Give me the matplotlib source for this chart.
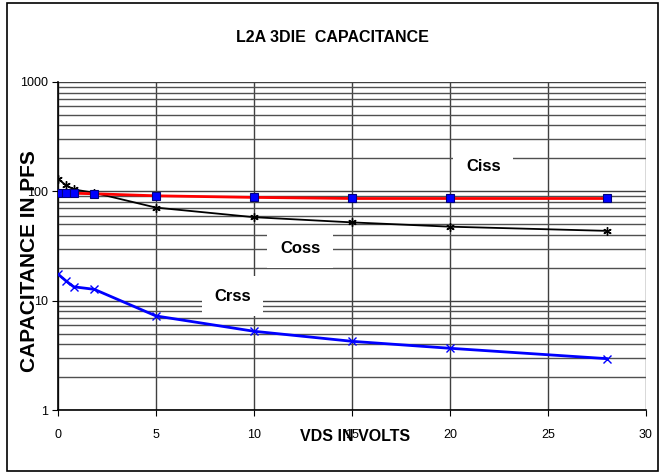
import matplotlib
matplotlib.use("Agg")
import matplotlib.pyplot as plt
from matplotlib.patches import Rectangle
from matplotlib.ticker import LogLocator, NullFormatter, FixedLocator, FixedFormatter

plt.rcParams['font.family'] = ['Liberation Sans', 'DejaVu Sans']

vds = [0, 0.4, 0.8, 1.85, 5, 10, 15, 20, 28]
ciss = [97, 96, 96, 95, 91, 88, 86, 86, 86]
coss = [130, 114, 104, 97, 71, 58, 52, 47.5, 43.5]
crss = [17.5, 15.2, 13.4, 12.7, 7.25, 5.25, 4.25, 3.67, 2.95]

fig = plt.figure(figsize=(6.65, 4.75), dpi=100)
ax = fig.add_axes([0.0872, 0.1368, 0.8842, 0.6906])

ax.plot(vds, ciss, color='red', lw=2, marker='s', ms=6,
        mfc='blue', mec='#000080', mew=0.8, zorder=5)
ax.plot(vds, coss, color='black', lw=1.3, marker=(6, 2, 0), ms=6,
        mec='black', mew=1, zorder=4)
ax.plot(vds, crss, color='blue', lw=2, marker='x', ms=6,
        mec='blue', mew=1, zorder=4)

ax.set_yscale('log')
ax.set_xlim(0, 30)
ax.set_ylim(1, 1000)
ax.xaxis.set_major_locator(FixedLocator([0, 5, 10, 15, 20, 25, 30]))
ax.yaxis.set_major_locator(FixedLocator([1, 10, 100, 1000]))
ax.yaxis.set_major_formatter(FixedFormatter(['1', '10', '100', '1000']))
ax.yaxis.set_minor_locator(LogLocator(base=10, subs=range(2, 10)))
ax.yaxis.set_minor_formatter(NullFormatter())

ax.grid(True, which='major', axis='both', color='#404040', lw=1)
ax.grid(True, which='minor', axis='y', color='#505050', lw=1)
ax.set_axisbelow(True)

for s in ['top', 'right']:
    ax.spines[s].set_visible(False)
ax.spines['left'].set_linewidth(1.2)
ax.spines['bottom'].set_linewidth(1.2)
ax.tick_params(axis='both', which='major', direction='out', length=4,
               labelsize=9, color='black')
ax.tick_params(axis='y', which='minor', length=0)
ax.tick_params(axis='x', pad=10)

box = dict(facecolor='white', edgecolor='none', pad=9)
ax.text(21.7, 167, 'Ciss', fontsize=12, fontweight='bold', ha='center',
        va='center', bbox=box, zorder=6)
ax.text(12.35, 30.3, 'Coss', fontsize=12, fontweight='bold', ha='center',
        va='center', bbox=box, zorder=6)
ax.text(8.9, 11.0, 'Crss', fontsize=12, fontweight='bold', ha='center',
        va='center', bbox=box, zorder=6)

fig.text(0.5, 0.922, 'L2A 3DIE  CAPACITANCE', fontsize=11.5, fontweight='bold',
         ha='center', va='center')
fig.text(0.534, 0.081, 'VDS IN VOLTS', fontsize=11.5, fontweight='bold',
         ha='center', va='center')
fig.text(0.044, 0.45, 'CAPACITANCE IN PFS', fontsize=15, fontweight='bold',
         ha='center', va='center', rotation=90)

fig.patches.append(Rectangle((0.011, 0.008), 0.978, 0.985, transform=fig.transFigure,
                             fill=False, edgecolor='black', lw=1.2))

fig.savefig('out.png', dpi=100)
